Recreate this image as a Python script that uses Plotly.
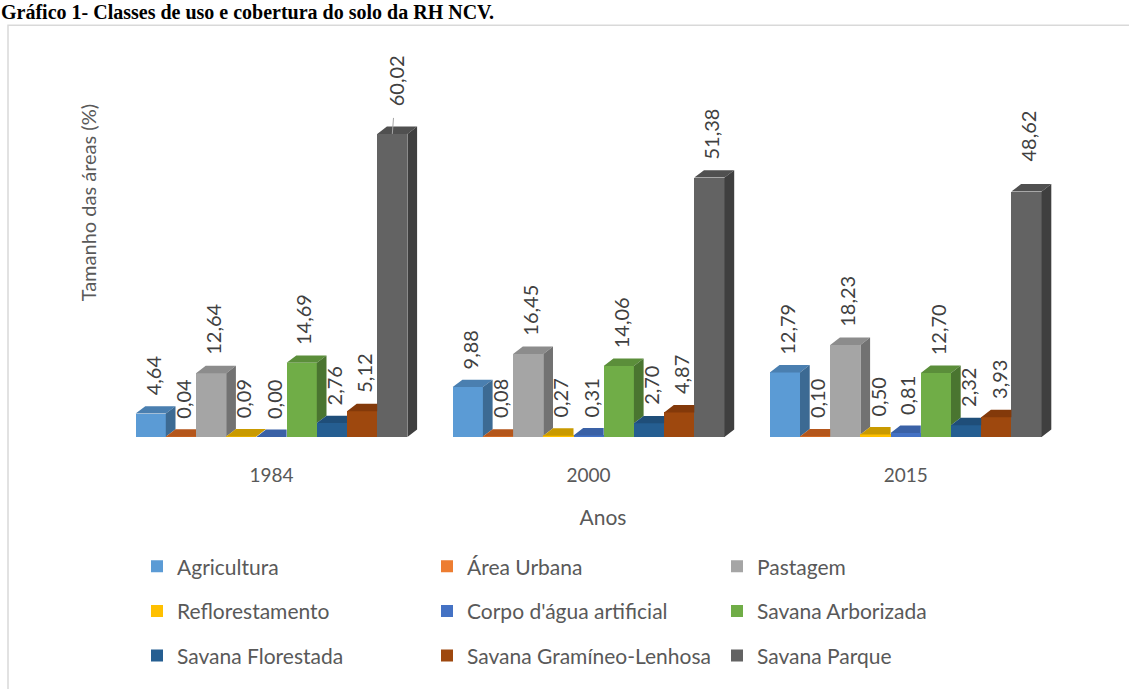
import plotly.graph_objects as go

# ---------------- data ----------------
years = ["1984", "2000", "2015"]
classes = ["Agricultura", "Área Urbana", "Pastagem", "Reflorestamento",
           "Corpo d'água artificial", "Savana Arborizada", "Savana Florestada",
           "Savana Gramíneo-Lenhosa", "Savana Parque"]
agricultura = [4.64, 9.88, 12.79]
area_urbana = [0.04, 0.08, 0.10]
pastagem = [12.64, 16.45, 18.23]
reflorestamento = [0.09, 0.27, 0.50]
corpo_agua = [0.00, 0.31, 0.81]
savana_arborizada = [14.69, 14.06, 12.70]
savana_florestada = [2.76, 2.70, 2.32]
savana_gramineo = [5.12, 4.87, 3.93]
savana_parque = [60.02, 51.38, 48.62]
series = [agricultura, area_urbana, pastagem, reflorestamento, corpo_agua,
          savana_arborizada, savana_florestada, savana_gramineo, savana_parque]

# ---------------- styles ----------------
front_cols = ["#5B9BD5", "#ED7D31", "#A5A5A5", "#FFC000", "#4472C4",
              "#70AD47", "#255E91", "#9E480E", "#636363"]
top_cols = ["#4A7FB0", "#B4561B", "#8C8C8C", "#C99A00", "#3A61A6",
            "#5B8E3A", "#1F4E79", "#83390A", "#505050"]
side_cols = ["#3C6A93", "#9A4A17", "#727272", "#A88000", "#30518A",
             "#4A7530", "#1A4266", "#6E3008", "#3F3F3F"]

W, H = 1129, 689
L, R, T, B = 120, 1086, 40, 441          # plot area in px
PX_X = 30.2                              # px per bar width
PX_Y = 5.1                               # px per percent
X0 = 271.5                               # px of first group centre
GROUP_STEP = 10.5                        # group spacing in bar widths
DX = 9.7 / PX_X                          # depth offset (x)
DY = 7.5 / PX_Y                          # depth offset (y)
FONT = "Lato, 'Open Sans', sans-serif"
TXT = "#595959"

xr = [(L - X0) / PX_X, (R - X0) / PX_X]
yr = [0, (B - T) / PX_Y]
centers = [j * GROUP_STEP for j in range(len(years))]
nS = len(series)

fig = go.Figure()

def leg_of(i):
    return ["legend", "legend2", "legend3"][i // 3]

# front faces as bars
for i, (name, vals) in enumerate(zip(classes, series)):
    xs = [c + (i - (nS - 1) / 2) for c in centers]
    fig.add_trace(go.Bar(
        x=xs, y=vals, width=1, name=name,
        marker=dict(color=front_cols[i], line=dict(width=0)),
        legend=leg_of(i), hoverinfo="skip"))

# 3D top & side faces (derived from values, clipped for occlusion)
for i, vals in enumerate(series):
    tx, ty, sx, sy = [], [], [], []
    for j, c in enumerate(centers):
        h = vals[j]
        xc = c + (i - (nS - 1) / 2)
        xl, xrr = xc - 0.5, xc + 0.5
        h_next = series[i + 1][j] if i + 1 < nS else None
        if h_next is not None and h_next > h:
            tx += [xl, xrr, xrr, xl + DX, xl, None]
            ty += [h, h, h + DY, h + DY, h, None]
        else:
            tx += [xl, xrr, xrr + DX, xl + DX, xl, None]
            ty += [h, h, h + DY, h + DY, h, None]
        h_lo = h_next if h_next is not None else 0
        if h > h_lo:
            sx += [xrr, xrr + DX, xrr + DX, xrr, xrr, None]
            sy += [h_lo, h_lo + DY, h + DY, h, h_lo, None]
    fig.add_trace(go.Scatter(x=tx, y=ty, mode="lines", fill="toself",
                             fillcolor=top_cols[i], line=dict(width=0),
                             showlegend=False, hoverinfo="skip"))
    if sx:
        fig.add_trace(go.Scatter(x=sx, y=sy, mode="lines", fill="toself",
                                 fillcolor=side_cols[i], line=dict(width=0),
                                 showlegend=False, hoverinfo="skip"))

# data labels
label_shift = {(8, 2): 28}
LBL_FONT = dict(family=FONT, size=20, color="#404040")
for i, vals in enumerate(series):
    for j, c in enumerate(centers):
        xc = c + (i - (nS - 1) / 2)
        txt = f"{vals[j]:.2f}".replace(".", ",")
        if (i, j) == (8, 0):
            fig.add_annotation(x=xc, y=vals[j], xref="x", yref="y", text=txt,
                               textangle=-90, showarrow=True, arrowhead=0,
                               arrowwidth=1, arrowcolor="#A6A6A6",
                               ax=4, ay=-53, startstandoff=10, font=LBL_FONT)
        else:
            fig.add_annotation(x=xc, y=vals[j], xref="x", yref="y", text=txt,
                               textangle=-90, showarrow=False,
                               xanchor="center", yanchor="bottom",
                               xshift=2, yshift=label_shift.get((i, j), 16),
                               font=LBL_FONT)

def py(px):
    return (B - px) / (B - T)

def pxx(px):
    return (px - L) / (R - L)

# y-axis title
fig.add_annotation(text="Tamanho das áreas (%)", xref="paper", yref="paper",
                   x=pxx(88), y=py(205), textangle=-90, showarrow=False,
                   xanchor="center", yanchor="middle",
                   font=dict(family=FONT, size=20, color=TXT))

# document caption above the chart frame
fig.add_annotation(text="<b>Gráfico 1- Classes de uso e cobertura do solo da RH NCV.</b>",
                   xref="paper", yref="paper", x=pxx(0), y=py(0),
                   xanchor="left", yanchor="top", showarrow=False,
                   borderpad=0,
                   font=dict(family="Liberation Serif", size=20, color="#000000"))

# chart frame
fig.add_shape(type="rect", xref="paper", yref="paper",
              x0=pxx(8), x1=pxx(1160), y0=py(720), y1=py(25),
              line=dict(color="#D9D9D9", width=1.5), fillcolor="rgba(0,0,0,0)",
              layer="below")

leg_common = dict(orientation="h", xanchor="left", yanchor="middle",
                  entrywidth=245, entrywidthmode="pixels",
                  font=dict(family=FONT, size=21, color=TXT),
                  bgcolor="rgba(0,0,0,0)", itemclick=False)

fig.update_layout(
    width=W, height=H,
    margin=dict(l=L, r=W - R, t=T, b=H - B, pad=0),
    paper_bgcolor="white", plot_bgcolor="white",
    barmode="overlay", bargap=0,
    showlegend=True,
    legend=dict(x=pxx(137), y=py(572), **leg_common),
    legend2=dict(x=pxx(137), y=py(617), **leg_common),
    legend3=dict(x=pxx(137), y=py(662), **leg_common),
    xaxis=dict(range=xr, tickmode="array", tickvals=centers, ticktext=years,
               showgrid=False, zeroline=False, showline=False, ticks="",
               ticklabelstandoff=25,
               tickfont=dict(family=FONT, size=19, color=TXT),
               title=dict(text="Anos", standoff=25,
                          font=dict(family=FONT, size=21, color=TXT))),
    yaxis=dict(range=yr, showgrid=False, zeroline=False, showline=False,
               showticklabels=False, ticks=""),
)

fig.write_html("out.html")
